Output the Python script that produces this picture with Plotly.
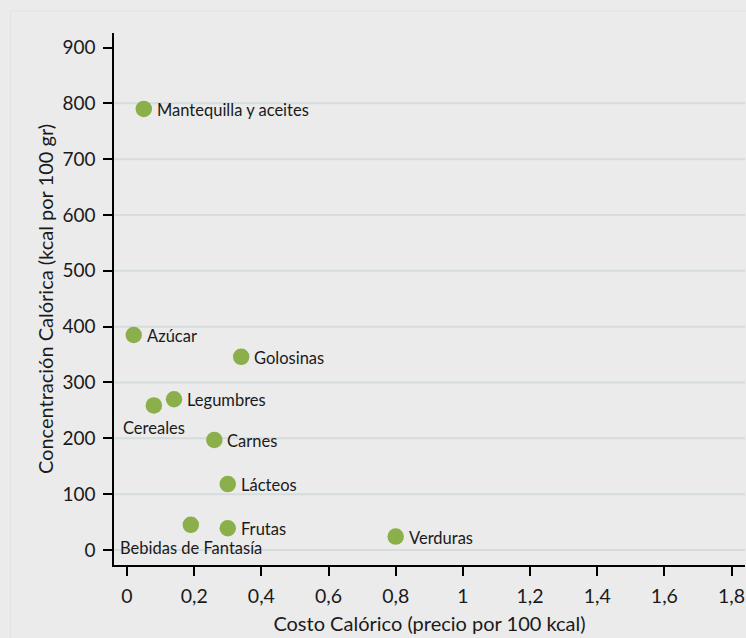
import plotly.graph_objects as go

# Food groups: caloric cost vs caloric density
alimentos = ["Mantequilla y aceites", "Azúcar", "Golosinas", "Legumbres", "Cereales",
             "Carnes", "Lácteos", "Bebidas de Fantasía", "Frutas", "Verduras"]
costo = [0.05, 0.02, 0.34, 0.14, 0.08, 0.26, 0.30, 0.19, 0.30, 0.80]
concentracion = [790, 385, 346, 270, 259, 197, 118, 45, 39, 24]
posicion = ["right", "right", "right", "right", "below",
            "right", "right", "below", "right", "right"]

x_ticks = [0, 0.2, 0.4, 0.6, 0.8, 1, 1.2, 1.4, 1.6, 1.8]
x_tick_text = ["0", "0,2", "0,4", "0,6", "0,8", "1", "1,2", "1,4", "1,6", "1,8"]
y_ticks = [0, 100, 200, 300, 400, 500, 600, 700, 800, 900]
y_grid = [0, 100, 200, 300, 400, 500, 600, 700, 800]

X_RANGE = [-0.0387, 1.84]
Y_RANGE = [-26.9, 926]

W, H = 746, 638
ML, MR, MT, MB = 113.5, 1, 33, 73
BG = "#EBEBEB"
FONT = "Lato, Open Sans, sans-serif"

fig = go.Figure()

# horizontal gridlines (none at the top tick), drawn beneath the points
gx, gy = [], []
for g in y_grid:
    gx += [X_RANGE[0], X_RANGE[1], None]
    gy += [g, g, None]
fig.add_trace(go.Scatter(
    x=gx, y=gy, mode="lines", line=dict(color="#D5DCDC", width=2),
    hoverinfo="skip", showlegend=False,
))

fig.add_trace(go.Scatter(
    x=costo, y=concentracion, mode="markers",
    marker=dict(size=16.5, color="#8BAF4B", line=dict(width=0)),
    hoverinfo="skip", cliponaxis=False, showlegend=False,
))

# point labels: to the right of the marker, or centred underneath it
for name, cx, cy, pos in zip(alimentos, costo, concentracion, posicion):
    if pos == "right":
        fig.add_annotation(x=cx, y=cy, text=name, showarrow=False,
                           xanchor="left", yanchor="middle", xshift=11, yshift=-1)
    else:
        fig.add_annotation(x=cx, y=cy, text=name, showarrow=False,
                           xanchor="center", yanchor="middle", yshift=-23)
fig.update_annotations(font=dict(family=FONT, size=16.5, color="#1a1a1a"))

# faint outer frame
pw = W - ML - MR
ph = H - MT - MB
fx0 = (10 - ML) / pw
fy0 = (H - 11 - MB) / ph
shapes = [
    dict(type="line", xref="paper", yref="paper", x0=fx0, x1=1.01, y0=fy0, y1=fy0,
         line=dict(color="#E2E2E2", width=1), layer="below"),
    dict(type="line", xref="paper", yref="paper", x0=fx0, x1=fx0, y0=fy0, y1=-0.2,
         line=dict(color="#E2E2E2", width=1), layer="below"),
]

fig.update_layout(
    width=W, height=H,
    margin=dict(l=ML, r=MR, t=MT, b=MB),
    paper_bgcolor=BG, plot_bgcolor=BG,
    font=dict(family=FONT, color="#1a1a1a"),
    shapes=shapes,
    xaxis=dict(
        range=X_RANGE, tickvals=x_ticks, ticktext=x_tick_text,
        showgrid=False, zeroline=False,
        showline=True, linecolor="#000", linewidth=1.5,
        ticks="outside", ticklen=9, tickwidth=1.5, tickcolor="#000",
        tickfont=dict(size=19.5, color="#1a1a1a"), ticklabelstandoff=4,
        title=dict(text="Costo Calórico (precio por 100 kcal)", font=dict(size=20), standoff=11),
    ),
    yaxis=dict(
        range=Y_RANGE, tickvals=y_ticks,
        showgrid=False, zeroline=False,
        showline=True, linecolor="#000", linewidth=1.5,
        ticks="outside", ticklen=9, tickwidth=1.5, tickcolor="#000",
        tickfont=dict(size=19, color="#1a1a1a"), ticklabelstandoff=4,
        title=dict(text="Concentración Calórica (kcal por 100 gr)", font=dict(size=20), standoff=3),
    ),
)

fig.write_html("out.html")
